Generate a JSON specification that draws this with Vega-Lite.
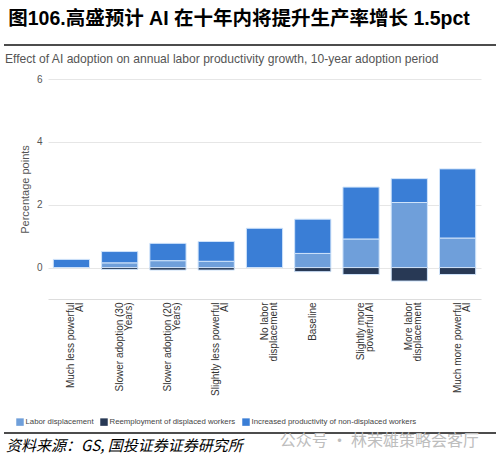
{
  "$schema": "https://vega.github.io/schema/vega-lite/v6.json",
  "background": "white",
  "padding": {"left": 3, "top": 8, "right": 0, "bottom": 0},
  "title": {
    "text": "图106.高盛预计 AI 在十年内将提升生产率增长 1.5pct",
    "anchor": "start",
    "font": "Liberation Sans, Noto Sans CJK SC",
    "fontSize": 19.5,
    "fontWeight": "bold",
    "color": "#000000",
    "dx": 5,
    "offset": 15
  },
  "spacing": 6,
  "config": {"view": {"stroke": null}},
  "vconcat": [
    {
      "width": 433,
      "height": 1,
      "data": {"values": [{"x0": 0, "x1": 1, "y": 1}]},
      "mark": {"type": "rule", "color": "#111111", "strokeWidth": 1.6},
      "encoding": {
        "x": {"field": "x0", "type": "quantitative", "scale": {"domain": [0, 1], "range": [-44, 449]}, "axis": null},
        "x2": {"field": "x1"},
        "y": {"field": "y", "type": "quantitative", "scale": {"domain": [0, 1]}, "axis": null}
      }
    },
    {
      "spacing": 36,
      "vconcat": [
        {
          "width": 433,
          "height": 220,
          "title": {
            "text": "Effect of AI adoption on annual labor productivity growth, 10-year adoption period",
            "anchor": "start",
            "frame": "group",
            "dx": -43,
            "offset": 9,
            "font": "Liberation Sans",
            "fontSize": 12.1,
            "fontWeight": "normal",
            "color": "#555555"
          },
          "data": {
            "values": [
              {"scenario": "Much less powerful\nAI", "component": "Increased productivity of non-displaced workers", "ord": 2, "value": 0.26},
              {"scenario": "Slower adoption (30\nYears)", "component": "Labor displacement", "ord": 1, "value": 0.15},
              {"scenario": "Slower adoption (30\nYears)", "component": "Reemployment of displaced workers", "ord": 3, "value": -0.06},
              {"scenario": "Slower adoption (30\nYears)", "component": "Increased productivity of non-displaced workers", "ord": 2, "value": 0.36},
              {"scenario": "Slower adoption (20\nYears)", "component": "Labor displacement", "ord": 1, "value": 0.22},
              {"scenario": "Slower adoption (20\nYears)", "component": "Reemployment of displaced workers", "ord": 3, "value": -0.08},
              {"scenario": "Slower adoption (20\nYears)", "component": "Increased productivity of non-displaced workers", "ord": 2, "value": 0.55},
              {"scenario": "Slightly less powerful\nAI", "component": "Labor displacement", "ord": 1, "value": 0.2},
              {"scenario": "Slightly less powerful\nAI", "component": "Reemployment of displaced workers", "ord": 3, "value": -0.08},
              {"scenario": "Slightly less powerful\nAI", "component": "Increased productivity of non-displaced workers", "ord": 2, "value": 0.63},
              {"scenario": "No labor\ndisplacement", "component": "Increased productivity of non-displaced workers", "ord": 2, "value": 1.25},
              {"scenario": "Baseline", "component": "Labor displacement", "ord": 1, "value": 0.45},
              {"scenario": "Baseline", "component": "Reemployment of displaced workers", "ord": 3, "value": -0.13},
              {"scenario": "Baseline", "component": "Increased productivity of non-displaced workers", "ord": 2, "value": 1.09},
              {"scenario": "Slightly more\npowerful AI", "component": "Labor displacement", "ord": 1, "value": 0.91},
              {"scenario": "Slightly more\npowerful AI", "component": "Reemployment of displaced workers", "ord": 3, "value": -0.22},
              {"scenario": "Slightly more\npowerful AI", "component": "Increased productivity of non-displaced workers", "ord": 2, "value": 1.65},
              {"scenario": "More labor\ndisplacement", "component": "Labor displacement", "ord": 1, "value": 2.07},
              {"scenario": "More labor\ndisplacement", "component": "Reemployment of displaced workers", "ord": 3, "value": -0.43},
              {"scenario": "More labor\ndisplacement", "component": "Increased productivity of non-displaced workers", "ord": 2, "value": 0.76},
              {"scenario": "Much more powerful\nAI", "component": "Labor displacement", "ord": 1, "value": 0.94},
              {"scenario": "Much more powerful\nAI", "component": "Reemployment of displaced workers", "ord": 3, "value": -0.22},
              {"scenario": "Much more powerful\nAI", "component": "Increased productivity of non-displaced workers", "ord": 2, "value": 2.2}
            ]
          },
          "mark": {"type": "bar", "stroke": "#cfe3fa", "strokeWidth": 1},
          "encoding": {
            "x": {
              "field": "scenario",
              "type": "nominal",
              "sort": [
                "Much less powerful\nAI",
                "Slower adoption (30\nYears)",
                "Slower adoption (20\nYears)",
                "Slightly less powerful\nAI",
                "No labor\ndisplacement",
                "Baseline",
                "Slightly more\npowerful AI",
                "More labor\ndisplacement",
                "Much more powerful\nAI"
              ],
              "scale": {"paddingInner": 0.25, "paddingOuter": 0.11},
              "axis": {
                "title": null,
                "labelAngle": -90,
                "labelExpr": "split(datum.label, '\\n')",
                "labelFont": "Liberation Sans",
                "labelFontSize": 10,
                "labelLineHeight": 9,
                "labelColor": "#333333",
                "labelPadding": 3,
                "ticks": false,
                "domainColor": "#dddddd"
              }
            },
            "y": {
              "field": "value",
              "type": "quantitative",
              "stack": "zero",
              "scale": {"domain": [-1, 6], "nice": false},
              "axis": {
                "values": [0, 2, 4, 6],
                "title": "Percentage points",
                "titleFont": "Liberation Sans",
                "titleFontSize": 11,
                "titleFontWeight": "normal",
                "titleColor": "#555555",
                "titlePadding": 6,
                "labelFont": "Liberation Sans",
                "labelFontSize": 10,
                "labelColor": "#555555",
                "labelPadding": 6,
                "ticks": false,
                "domain": false,
                "gridColor": "#e6e6e6"
              }
            },
            "color": {
              "field": "component",
              "type": "nominal",
              "scale": {
                "domain": ["Labor displacement", "Reemployment of displaced workers", "Increased productivity of non-displaced workers"],
                "range": ["#6f9fda", "#283955", "#3a7ed6"]
              },
              "legend": {
                "title": null,
                "orient": "none",
                "legendX": -32,
                "legendY": 373,
                "direction": "horizontal",
                "symbolType": "square",
                "symbolSize": 56,
                "symbolStrokeWidth": 0,
                "labelFont": "Liberation Sans",
                "labelFontSize": 7.8,
                "labelLimit": 0,
                "labelColor": "#444444",
                "labelOffset": 1.5,
                "columnPadding": 6
              }
            },
            "order": {"field": "ord", "type": "quantitative"}
          }
        },
        {
          "width": 433,
          "height": 13,
          "data": {"values": [{"x0": 0, "x1": 1, "ytop": 1, "ytext": 0, "src": "资料来源：GS, 国投证券证券研究所", "wm": "公众号 · 林荣雄策略会客厅"}]},
          "layer": [
            {
              "mark": {"type": "rule", "color": "#111111", "strokeWidth": 1.6},
              "encoding": {
                "x": {"field": "x0", "type": "quantitative", "scale": {"domain": [0, 1], "range": [-44, 449]}, "axis": null},
                "x2": {"field": "x1"},
                "y": {"field": "ytop", "type": "quantitative", "scale": {"domain": [0, 1]}, "axis": null}
              }
            },
            {
              "mark": {"type": "text", "align": "left", "baseline": "middle", "font": "Noto Sans CJK SC", "fontSize": 15, "fontStyle": "italic", "color": "#000000", "dx": 2},
              "encoding": {
                "x": {"field": "x0", "type": "quantitative", "scale": {"domain": [0, 1], "range": [-44, 449]}, "axis": null},
                "y": {"field": "ytext", "type": "quantitative", "scale": {"domain": [0, 1]}, "axis": null},
                "text": {"field": "src"}
              }
            },
            {
              "mark": {"type": "text", "align": "right", "baseline": "middle", "font": "Noto Sans CJK SC", "fontSize": 16, "color": "#bdbdbd", "dx": -18, "dy": -5},
              "encoding": {
                "x": {"field": "x1", "type": "quantitative", "scale": {"domain": [0, 1], "range": [-44, 449]}, "axis": null},
                "y": {"field": "ytext", "type": "quantitative", "scale": {"domain": [0, 1]}, "axis": null},
                "text": {"field": "wm"}
              }
            }
          ]
        }
      ]
    }
  ]
}
